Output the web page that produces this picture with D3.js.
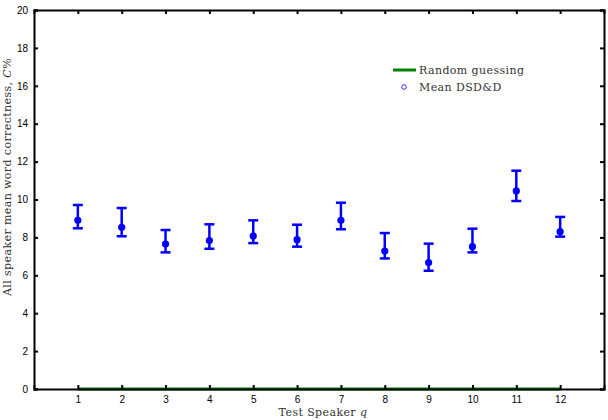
<!DOCTYPE html>
<html><head><meta charset="utf-8">
<script src="https://cdn.jsdelivr.net/npm/d3@7"></script>
<style>body{margin:0;background:#fff}svg{display:block}</style>
</head><body>
<svg id="c" width="608" height="420"></svg>
<script>
const speakers = [1,2,3,4,5,6,7,8,9,10,11,12];
const meanVals = [8.90,8.53,7.65,7.83,8.07,7.88,8.90,7.28,6.67,7.51,10.45,8.30];
const upperVals = [9.71,9.55,8.39,8.69,8.90,8.67,9.83,8.23,7.67,8.46,11.52,9.08];
const lowerVals = [8.48,8.06,7.21,7.40,7.70,7.51,8.43,6.89,6.24,7.21,9.92,8.04];
const randomGuess = [0,0,0,0,0,0,0,0,0,0,0,0];
const yTicks = [0,2,4,6,8,10,12,14,16,18,20];
const legendLabels = ["Random guessing","Mean DSD&D"];

const svg = d3.select("#c");
const L=34,R=604,T=10,B=389;
const x = d3.scaleLinear().domain([0,13]).range([L,R]);
const y = d3.scaleLinear().domain([0,20]).range([B,T]);

// random guessing line
svg.append("path").datum(speakers.map((s,i)=>[s,randomGuess[i]]))
  .attr("d", d3.line().x(d=>x(d[0])).y(d=>y(d[1])))
  .attr("stroke","#007f00").attr("stroke-width",3).attr("fill","none");

// axes
const ax = svg.append("g");
ax.append("g").attr("transform",`translate(0,${B})`)
  .call(d3.axisBottom(x).tickValues(speakers).tickSize(-4).tickPadding(7).tickFormat(d3.format("d")));
ax.append("g").attr("transform",`translate(${L},0)`)
  .call(d3.axisLeft(y).tickValues(yTicks).tickSize(-4).tickPadding(6));
ax.append("g").attr("transform",`translate(0,${T})`)
  .call(d3.axisTop(x).tickValues(speakers).tickSize(-4).tickFormat(""));
ax.append("g").attr("transform",`translate(${R},0)`)
  .call(d3.axisRight(y).tickValues(yTicks).tickSize(-4).tickFormat(""));
ax.selectAll(".domain").attr("stroke","#000").attr("stroke-width",2);
ax.selectAll(".tick line").attr("stroke","#000").attr("stroke-width",2);
ax.selectAll(".tick text").attr("font-family","Liberation Sans, Arial, sans-serif").attr("font-size",10).attr("fill","#000");

// error bars
const eb = svg.append("g").attr("stroke","#0000ff").attr("stroke-width",2.5);
speakers.forEach((s,i)=>{
  eb.append("line").attr("x1",x(s)).attr("x2",x(s)).attr("y1",y(upperVals[i])).attr("y2",y(lowerVals[i]));
  eb.append("line").attr("x1",x(s)-5).attr("x2",x(s)+5).attr("y1",y(upperVals[i])).attr("y2",y(upperVals[i]));
  eb.append("line").attr("x1",x(s)-5).attr("x2",x(s)+5).attr("y1",y(lowerVals[i])).attr("y2",y(lowerVals[i]));
});
svg.append("g").selectAll("circle").data(speakers).join("circle")
  .attr("cx",d=>x(d)).attr("cy",(d,i)=>y(meanVals[i])).attr("r",3.6).attr("fill","#0000ff");

// axis titles
const serif = "DejaVu Serif, Liberation Serif, serif";
const xt = svg.append("text").attr("x",323).attr("y",416).attr("text-anchor","middle")
  .attr("font-family",serif).attr("font-size",11).attr("fill","#333").attr("letter-spacing",0.4);
xt.append("tspan").text("Test Speaker ");
xt.append("tspan").attr("font-style","italic").text("q");
const yt = svg.append("text").attr("transform",`translate(11,177) rotate(-90)`).attr("text-anchor","middle")
  .attr("font-family",serif).attr("font-size",11).attr("fill","#333").attr("letter-spacing",0.4);
yt.append("tspan").text("All speaker mean word correctness, ");
yt.append("tspan").attr("font-style","italic").text("C");
yt.append("tspan").text("%");

// legend
const lg = svg.append("g");
lg.append("line").attr("x1",393).attr("x2",416).attr("y1",70).attr("y2",70).attr("stroke","#007f00").attr("stroke-width",3);
lg.append("circle").attr("cx",404).attr("cy",87).attr("r",2.3).attr("fill","none").attr("stroke","#0000ff").attr("stroke-width",0.8);
lg.selectAll("text").data(legendLabels).join("text")
  .attr("x",419).attr("y",(d,i)=>74+i*17).text(d=>d)
  .attr("font-family",serif).attr("font-size",11).attr("fill","#333").attr("letter-spacing",0.4);
</script>
</body></html>
